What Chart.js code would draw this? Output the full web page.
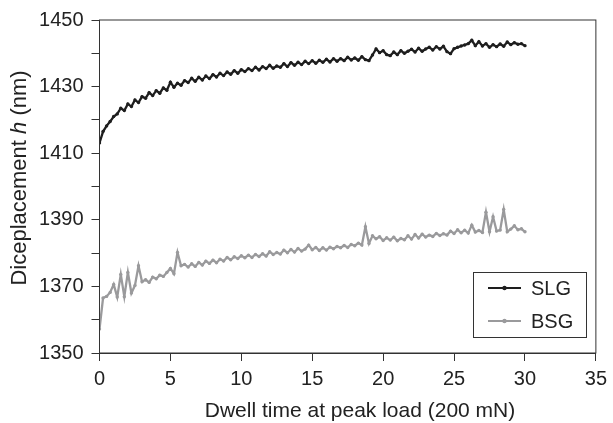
<!DOCTYPE html>
<html>
<head>
<meta charset="utf-8">
<script src="https://cdn.jsdelivr.net/npm/chart.js@4/dist/chart.umd.min.js"></script>
<style>
  html, body { margin: 0; padding: 0; background: #fff; }
</style>
</head>
<body>
<canvas id="dwellChart" width="613" height="423"></canvas>
<script>
// dwell time (s)
const times = [
  0, 0.25, 0.5, 0.75, 1, 1.25, 1.5, 1.75, 2, 2.25, 2.5, 2.75, 3, 3.25, 3.5, 3.75,
  4, 4.25, 4.5, 4.75, 5, 5.25, 5.5, 5.75, 6, 6.25, 6.5, 6.75, 7, 7.25, 7.5, 7.75,
  8, 8.25, 8.5, 8.75, 9, 9.25, 9.5, 9.75, 10, 10.25, 10.5, 10.75, 11, 11.25, 11.5, 11.75,
  12, 12.25, 12.5, 12.75, 13, 13.25, 13.5, 13.75, 14, 14.25, 14.5, 14.75, 15, 15.25, 15.5, 15.75,
  16, 16.25, 16.5, 16.75, 17, 17.25, 17.5, 17.75, 18, 18.25, 18.5, 18.75, 19, 19.25, 19.5, 19.75,
  20, 20.25, 20.5, 20.75, 21, 21.25, 21.5, 21.75, 22, 22.25, 22.5, 22.75, 23, 23.25, 23.5, 23.75,
  24, 24.25, 24.5, 24.75, 25, 25.25, 25.5, 25.75, 26, 26.25, 26.5, 26.75, 27, 27.25, 27.5, 27.75,
  28, 28.25, 28.5, 28.75, 29, 29.25, 29.5, 29.75, 30
];

// displacement h (nm)
const slg = [
  1413.1, 1416.5, 1418.2, 1419.5, 1421.0, 1421.8, 1423.5, 1422.8, 1424.8, 1424.0, 1426.0, 1425.2, 1427.0, 1426.5, 1428.2, 1427.3,
  1428.8, 1428.0, 1429.6, 1428.9, 1431.3, 1429.8, 1431.0, 1430.4, 1431.8, 1431.2, 1432.5, 1431.6, 1432.8, 1432.0, 1433.2, 1432.4,
  1433.6, 1432.9, 1434.0, 1433.3, 1434.4, 1433.7, 1434.8, 1434.0, 1435.1, 1434.5, 1435.4, 1434.8, 1435.8, 1435.0, 1436.0, 1435.4,
  1436.4, 1435.5, 1436.2, 1435.8, 1436.9, 1436.0, 1437.2, 1436.4, 1437.3, 1436.6, 1437.6, 1436.9, 1437.8, 1437.0, 1437.9, 1437.3,
  1438.2, 1437.4, 1438.4, 1437.6, 1438.4, 1437.8, 1438.8, 1438.0, 1438.6, 1437.9, 1439.0, 1438.1, 1437.8, 1439.5, 1441.3, 1440.2,
  1440.8, 1439.6, 1439.3, 1440.4, 1439.6, 1440.8, 1440.0, 1440.6, 1441.2, 1440.4, 1441.5, 1440.6, 1441.3, 1441.8, 1441.0, 1442.0,
  1441.3, 1442.1, 1440.5, 1439.9, 1441.4, 1441.8, 1442.2, 1442.5, 1442.9, 1443.9, 1442.3, 1443.5, 1442.2, 1442.9, 1441.8, 1442.6,
  1442.0, 1442.8, 1442.1, 1443.4, 1442.6, 1443.2, 1442.7, 1442.9, 1442.3
];

const bsg = [
  1357.2, 1366.5, 1367.0, 1368.2, 1370.6, 1366.8, 1373.6, 1366.9, 1374.2, 1368.0, 1370.3, 1376.2, 1371.4, 1372.0, 1371.2, 1372.8,
  1372.3, 1373.4, 1373.0, 1374.2, 1375.4, 1373.8, 1380.2, 1376.2, 1376.6, 1375.8, 1376.8, 1376.0, 1377.2, 1376.4, 1377.6, 1376.9,
  1377.9, 1377.1, 1378.2, 1377.6, 1378.7, 1378.0, 1378.9, 1378.4, 1379.2, 1378.6, 1379.4, 1378.7, 1379.6, 1379.0, 1379.8, 1379.1,
  1380.4, 1379.6, 1380.2, 1379.7, 1380.9, 1380.1, 1381.1, 1380.3, 1381.4, 1380.6, 1381.2, 1382.4, 1381.0, 1381.7, 1380.8, 1381.6,
  1380.9, 1381.8, 1381.3, 1382.0, 1381.6, 1382.3, 1381.7, 1382.6, 1382.2, 1383.0, 1382.4, 1387.9, 1382.9, 1385.2, 1384.3, 1384.9,
  1383.8, 1384.6, 1383.9, 1384.8, 1383.7, 1384.4, 1384.0, 1385.2, 1384.2, 1385.6, 1384.5, 1385.7, 1384.8, 1385.4, 1385.0, 1385.9,
  1385.3, 1385.8, 1385.4, 1386.6, 1385.9, 1387.0, 1386.1, 1386.9, 1386.0, 1388.4, 1386.3, 1386.8, 1386.2, 1392.3, 1386.4, 1390.9,
  1386.6, 1386.9, 1393.1, 1386.4, 1387.2, 1388.2, 1387.0, 1387.3, 1386.4
];

const seriesNames = ['SLG', 'BSG'];
const seriesColors = ['#1e1e1e', '#9a9a9c'];
const xTicks = [0, 5, 10, 15, 20, 25, 30, 35];
const yLabels = [1350, 1370, 1390, 1410, 1430, 1450];

const FONT = '"Liberation Sans", Arial, sans-serif';
const TEXT = '#222';

// box round the plot, axis titles and the boxed legend
const extras = {
  id: 'extras',
  afterDraw(chart) {
    const { ctx, chartArea: a } = chart;
    ctx.save();
    ctx.strokeStyle = '#333';
    ctx.lineWidth = 1;
    ctx.strokeRect(a.left, a.top, a.right - a.left, a.bottom - a.top);

    ctx.fillStyle = TEXT;
    ctx.font = '21px ' + FONT;
    ctx.textAlign = 'center';
    ctx.textBaseline = 'alphabetic';
    ctx.fillText('Dwell time at peak load (200 mN)', 360, 417);

    // y title with italic h
    const parts = [['Diceplacement ', ''], ['h', 'italic '], [' (nm)', '']];
    ctx.translate(26, 178);
    ctx.rotate(-Math.PI / 2);
    let total = 0;
    parts.forEach(p => { ctx.font = p[1] + '22px ' + FONT; total += ctx.measureText(p[0]).width; });
    let x = -total / 2;
    ctx.textAlign = 'left';
    parts.forEach(p => {
      ctx.font = p[1] + '22px ' + FONT;
      ctx.fillText(p[0], x, 0);
      x += ctx.measureText(p[0]).width;
    });
    ctx.setTransform(1, 0, 0, 1, 0, 0);

    // legend
    ctx.strokeStyle = '#333';
    ctx.lineWidth = 1;
    ctx.strokeRect(473.5, 272.5, 113, 65);
    const rows = [288, 321];
    chart.data.datasets.forEach((ds, i) => {
      const y = rows[i];
      ctx.strokeStyle = ds.borderColor;
      ctx.lineWidth = 2;
      ctx.beginPath();
      ctx.moveTo(488, y);
      ctx.lineTo(521, y);
      ctx.stroke();
      ctx.fillStyle = ds.borderColor;
      ctx.beginPath();
      ctx.arc(504.5, y, 2.2, 0, Math.PI * 2);
      ctx.fill();
      ctx.fillStyle = TEXT;
      ctx.font = '20px ' + FONT;
      ctx.textAlign = 'left';
      ctx.textBaseline = 'middle';
      ctx.fillText(ds.label, 531, y + 1);
    });
    ctx.restore();
  }
};

const ctx = document.getElementById('dwellChart').getContext('2d');
new Chart(ctx, {
  type: 'line',
  data: {
    datasets: [slg, bsg].map((vals, i) => ({
      label: seriesNames[i],
      data: times.map((t, k) => ({ x: t, y: vals[k] })),
      borderColor: seriesColors[i],
      backgroundColor: seriesColors[i],
      borderWidth: 2.3,
      pointRadius: 1.7,
      pointBorderWidth: 0,
      tension: 0
    }))
  },
  options: {
    responsive: false,
    animation: false,
    devicePixelRatio: 1,
    layout: { padding: { left: 0, top: 16, right: 13, bottom: 0 } },
    plugins: { legend: { display: false }, tooltip: { enabled: false } },
    scales: {
      x: {
        type: 'linear',
        min: 0,
        max: 35,
        afterBuildTicks: s => { s.ticks = xTicks.map(v => ({ value: v })); },
        afterFit: s => { s.height = 70; },
        ticks: { color: TEXT, font: { family: FONT, size: 20 }, padding: 6, autoSkip: false, maxRotation: 0 },
        grid: { drawOnChartArea: false, drawTicks: true, tickLength: 8, color: '#333' },
        border: { display: true, color: '#333', width: 1 }
      },
      y: {
        min: 1350,
        max: 1450,
        afterBuildTicks: s => {
          const t = [];
          for (let v = 1350; v <= 1450; v += 10) t.push({ value: v });
          s.ticks = t;
        },
        afterFit: s => { s.width = 99.5; },
        ticks: {
          color: TEXT,
          font: { family: FONT, size: 20 },
          padding: 8,
          autoSkip: false,
          callback: v => (yLabels.includes(v) ? String(v) : '')
        },
        grid: { drawOnChartArea: false, drawTicks: true, tickLength: 8, color: '#333' },
        border: { display: true, color: '#333', width: 1 }
      }
    }
  },
  plugins: [extras]
});
</script>
</body>
</html>
